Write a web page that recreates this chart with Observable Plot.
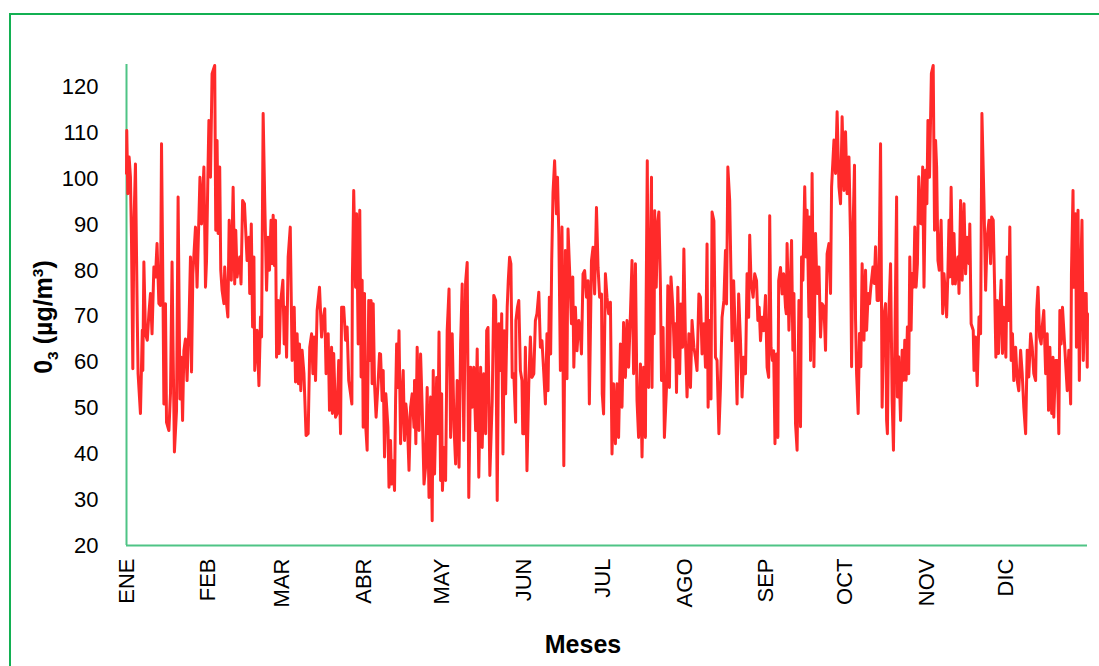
<!DOCTYPE html>
<html><head><meta charset="utf-8">
<script src="https://cdn.jsdelivr.net/npm/d3@7"></script>
<script src="https://cdn.jsdelivr.net/npm/@observablehq/plot@0.6"></script>
<style>
body{margin:0;background:#fff;}
#wrap{position:relative;width:1099px;height:666px;overflow:hidden;font-family:"Liberation Sans",Arial,sans-serif;color:#000;}
#frame{position:absolute;left:9px;top:13px;width:1200px;height:800px;border-left:2px solid #13b052;border-top:2px solid #13b052;}
#ylab{position:absolute;left:45px;top:317px;transform:translate(-50%,-50%) rotate(-90deg);font-weight:bold;font-size:25px;white-space:nowrap;line-height:1;}
#ylab sub,#ylab sup{font-size:0.62em;}
#xlab{position:absolute;left:583px;top:632px;transform:translateX(-50%);font-weight:bold;font-size:25px;line-height:1;}
#chart{position:absolute;left:0;top:0;}
</style></head><body>
<div id="wrap"><div id="frame"></div><div id="chart"></div><div id="ylab">0<sub>3</sub> (µg/m<sup>3</sup>)</div><div id="xlab">Meses</div></div>
<script>
const monthLabels = ["ENE","FEB","MAR","ABR","MAY","JUN","JUL","AGO","SEP","OCT","NOV","DIC"];
const monthStartDays = [0,31,59,90,120,151,181,212,243,273,304,334];
const yTicks = [20,30,40,50,60,70,80,90,100,110,120];

const day = [
0.0,0.1,0.5,1.0,1.5,1.9,2.4,2.8,3.4,4.1,4.4,5.3,6.0,6.2,6.6,7.2,7.9,8.5,9.1,9.7,10.4,11.0,11.6,12.3,12.9,13.3,13.9,14.2,14.8,15.2,16.1,16.7,17.3,17.7,18.2,19.0,19.6,20.3,20.8,21.3,21.8,22.4,23.0,23.7,24.3,24.7,25.2,26.2,26.8,27.9,28.5,29.4,30.0,30.4,30.9,31.3,31.9,32.5,33.5,33.9,34.4,34.8,35.4,35.8,36.3,37.0,37.3,38.0,38.5,39.0,39.8,40.5,41.1,41.5,42.0,43.0,43.5,44.1,44.8,
45.8,46.5,46.8,47.4,47.9,48.4,48.7,49.6,50.3,50.9,51.3,51.9,52.5,53.2,53.8,54.3,54.9,55.3,55.7,56.2,56.6,57.0,57.6,58.0,58.5,59.4,59.9,60.3,60.8,61.4,62.2,62.9,63.7,64.2,64.8,65.3,65.7,66.2,66.7,67.4,68.2,69.0,69.6,70.3,70.8,71.3,71.8,72.4,73.3,74.1,74.6,75.3,75.8,76.6,77.1,77.9,78.2,78.7,79.4,80.0,80.6,81.3,81.7,82.5,83.2,83.8,84.4,85.1,85.6,85.8,86.3,87.0,87.4,88.0,88.6,89.1,89.5,89.9,90.4,90.8,91.4,92.0,92.5,92.9,93.3,93.7,94.2,94.8,95.6,96.1,
96.5,97.1,97.5,98.0,98.5,99.3,99.7,100.3,100.7,101.2,101.8,102.2,102.6,103.1,103.5,104.1,104.7,105.1,105.6,106.1,106.6,107.3,107.9,108.5,109.2,109.4,109.9,110.4,111.1,111.7,112.3,113.0,113.6,114.2,114.9,115.5,116.1,116.5,117.0,117.8,118.3,118.7,119.3,119.7,120.0,120.6,121.2,121.8,122.5,123.1,123.7,124.4,125.0,125.6,126.3,126.9,127.5,128.1,128.8,129.4,130.0,130.7,131.3,131.9,132.6,133.2,133.8,134.5,135.1,135.7,136.4,136.8,137.3,138.0,138.9,139.5,140.2,140.8,141.4,142.1,142.5,143.0,143.5,144.0,144.6,145.0,145.5,146.0,146.5,147.1,147.8,
147.9,148.5,149.0,149.6,150.2,150.5,151.1,151.5,152.1,152.8,153.4,154.0,154.7,155.3,155.9,156.6,157.2,157.8,158.5,159.1,159.7,160.1,160.6,161.1,161.5,162.0,162.6,163.3,163.7,164.2,164.8,165.4,166.1,166.7,167.3,167.7,168.3,169.0,169.5,169.9,170.5,171.1,171.8,172.4,172.8,173.4,174.0,174.7,175.3,175.8,176.6,177.2,177.8,178.5,179.1,179.7,180.4,180.7,181.2,181.9,182.5,183.1,183.8,184.4,185.0,185.7,186.3,186.9,187.6,188.2,188.8,189.5,190.1,190.7,191.4,192.0,192.6,193.3,193.9,194.5,195.2,195.8,196.4,197.1,197.3,197.8,198.3,199.0,
199.4,199.6,200.0,200.4,200.6,201.2,201.7,202.2,202.8,203.2,203.8,204.3,205.1,205.6,206.2,206.8,207.5,208.1,208.5,208.9,209.4,210.1,210.6,211.2,211.7,212.3,212.9,213.6,214.2,214.8,215.5,216.1,216.7,217.4,218.0,218.6,219.3,219.9,220.5,220.9,221.5,222.0,222.4,223.1,223.7,224.3,225.0,225.6,226.2,226.9,227.5,227.9,228.4,229.1,229.6,230.0,230.6,231.3,231.9,232.5,233.2,233.8,234.4,235.1,235.7,236.3,236.7,237.2,238.0,238.6,239.3,239.8,240.3,240.8,241.4,242.0,242.7,243.3,243.9,244.3,244.8,245.3,245.8,246.3,246.9,247.4,247.7,248.4,249.0,249.6,250.3,
250.6,250.9,251.6,252.1,252.6,253.1,253.5,254.1,254.7,255.4,256.0,256.4,256.9,257.6,258.1,258.5,259.2,259.4,259.8,260.4,261.1,261.7,262.3,263.0,263.6,264.2,264.9,265.5,266.1,266.8,267.4,267.8,268.7,269.3,269.9,270.6,271.2,271.8,272.5,273.1,273.7,274.4,275.0,275.4,276.0,276.5,276.9,277.3,277.9,278.4,278.9,279.4,280.1,280.7,281.1,281.7,282.2,282.7,283.5,284.0,284.5,285.1,285.7,286.4,287.0,287.6,288.3,288.7,289.0,289.5,290.2,290.8,291.3,291.8,292.5,292.8,293.3,294.0,294.6,295.2,295.6,296.1,296.6,297.1,297.5,298.0,298.4,299.0,299.4,299.9,300.4,300.9,301.6,
302.0,302.4,302.9,303.5,304.0,304.4,305.0,305.7,306.4,306.9,307.3,307.7,308.2,308.7,309.4,310.0,310.5,311.0,311.5,312.0,312.4,312.7,313.2,313.8,314.3,314.8,315.3,315.8,316.2,316.8,317.4,318.1,318.7,319.3,320.0,320.3,320.8,321.6,321.9,322.5,323.1,323.8,324.4,324.9,325.7,326.3,326.9,327.6,328.2,328.6,329.2,329.7,330.2,330.7,331.2,331.7,332.2,332.7,333.2,334.0,334.5,335.0,335.5,336.0,336.5,337.0,337.7,338.3,338.9,339.6,340.2,340.8,341.5,342.1,342.7,343.4,344.0,344.6,345.3,345.7,346.2,346.8,347.4,347.8,348.4,349.1,349.7,350.2,350.7,351.4,351.9,352.2,352.9,353.5,354.1,354.5,355.0,355.5,356.0,356.7,357.3,357.9,358.6,358.9,359.5,359.8,360.5,360.8,361.4,361.9,362.4,362.9,363.4,364.0,364.5,364.9,365.0
];

const o3 = [
101.2,110.6,96.8,104.8,100.4,86.6,58.6,89.5,103.3,69.1,57.5,48.8,67.0,58.2,81.9,66.2,64.8,70.6,75.0,66.2,80.8,78.6,85.9,72.8,72.4,107.7,72.0,50.9,72.8,46.9,45.1,53.1,81.9,62.6,40.4,49.5,96.1,52.0,61.1,47.3,62.6,65.1,56.0,67.7,83.0,57.9,79.3,89.5,76.4,100.4,90.2,102.6,76.4,82.2,100.4,112.8,100.4,123.0,124.8,88.8,108.4,88.1,102.6,80.1,75.7,72.8,80.8,72.8,69.9,91.0,77.9,98.2,77.1,88.8,78.6,83.0,77.1,95.3,94.6,
82.2,87.3,75.0,90.2,67.7,83.0,58.2,67.0,54.9,69.9,65.5,114.3,95.3,75.7,87.3,80.1,91.0,81.5,92.1,81.1,91.0,61.1,73.5,61.9,72.8,77.9,64.0,72.0,61.1,83.0,89.5,60.4,72.0,55.7,66.2,55.3,64.0,53.8,62.6,57.5,44.0,44.4,63.3,66.2,57.5,65.5,56.0,71.3,76.4,65.5,69.1,71.7,57.5,66.2,49.5,63.3,48.8,61.9,48.0,48.8,60.4,44.4,72.0,72.0,64.8,67.7,56.0,53.1,50.9,78.6,97.5,76.4,92.4,64.0,93.2,56.8,77.9,45.8,75.0,46.6,40.8,73.5,60.4,73.5,55.3,72.8,55.3,48.0,56.0,61.9,
61.8,51.6,58.2,39.3,53.1,45.8,32.7,42.9,33.4,38.5,32.0,51.6,64.0,54.5,66.9,42.2,53.1,58.2,42.9,50.9,48.0,36.4,50.2,53.1,45.8,56.0,42.2,63.3,45.1,61.8,50.2,33.4,37.1,54.5,30.5,52.4,25.4,58.2,35.6,56.7,44.4,66.6,34.2,53.1,32.0,41.4,34.2,66.9,76.0,43.6,66.2,45.8,37.8,56.0,37.1,64.0,77.1,42.9,77.5,81.8,30.5,58.9,50.2,58.9,45.1,62.9,34.9,58.9,41.4,57.5,44.4,66.9,67.6,35.3,51.6,74.6,73.5,29.8,68.4,58.2,70.6,40.0,66.9,53.1,72.0,77.8,82.9,81.5,56.7,57.5,46.9,
69.1,72.0,73.5,58.2,56.0,44.4,44.4,63.3,36.3,55.3,65.5,56.7,57.5,69.1,70.6,75.3,63.3,64.7,57.5,50.9,66.2,53.8,74.2,61.8,82.2,97.1,104.0,92.4,100.4,88.0,58.2,89.5,37.4,84.4,56.4,89.1,80.0,68.4,78.6,58.9,72.0,62.5,69.1,66.2,61.8,79.3,80.0,74.2,77.8,50.9,82.2,85.1,74.9,93.8,80.7,74.2,74.9,53.1,48.7,79.3,74.2,70.6,73.1,40.0,55.3,42.2,55.3,43.6,64.0,50.2,68.7,56.7,69.1,58.9,70.6,82.2,57.5,81.5,51.6,43.6,59.6,39.3,58.9,43.6,68.7,104.0,54.5,85.8,
100.4,54.5,85.8,66.2,93.1,76.4,90.2,92.8,76.4,56.0,67.6,43.6,54.5,76.7,54.5,78.6,72.0,61.1,68.4,53.4,76.4,57.5,72.7,63.3,84.7,64.7,52.4,66.2,54.5,69.1,63.3,61.1,58.2,74.9,74.2,61.8,68.4,58.9,85.8,50.2,69.1,52.0,92.8,90.9,61.1,60.4,44.4,54.5,69.8,73.5,84.4,72.7,102.6,95.3,78.6,64.7,77.8,64.7,50.9,74.9,64.7,52.4,61.1,57.5,79.3,69.8,87.7,77.8,74.2,79.3,77.8,69.1,72.0,64.7,69.8,66.9,74.6,58.9,56.7,92.0,63.3,60.4,62.5,42.2,61.8,43.6,77.8,80.7,74.9,79.3,72.0,
70.6,85.9,67.0,76.4,86.6,62.6,75.0,46.6,40.8,73.5,45.9,83.0,77.9,98.3,83.0,93.2,69.9,91.7,60.4,101.2,59.0,88.1,75.0,80.8,65.5,72.8,72.1,62.6,83.7,85.9,75.0,98.3,108.5,101.2,114.7,98.3,94.6,113.6,97.5,110.3,96.8,104.8,86.6,59.0,90.3,103.0,69.2,57.5,48.8,66.3,59.0,81.5,64.8,80.1,67.0,75.0,72.8,76.4,80.8,77.2,85.2,73.5,73.5,107.7,50.2,69.9,72.8,47.3,44.4,69.9,81.5,51.7,40.8,62.6,96.1,52.4,61.2,47.3,62.6,56.1,64.8,56.1,67.7,57.5,83.0,67.0,79.4,76.4,89.5,76.4,81.5,100.5,90.3,
90.2,102.6,76.4,101.9,94.6,112.8,100.4,123.0,124.8,88.8,108.4,102.6,82.2,80.1,91.0,70.6,79.3,75.0,69.9,80.1,91.0,78.6,98.2,77.1,88.1,77.1,80.8,83.0,75.0,95.3,77.9,94.6,79.3,87.3,81.5,90.2,68.4,67.0,58.2,65.5,54.9,69.9,66.2,114.3,94.6,75.7,87.3,91.0,81.5,91.7,91.0,77.1,61.1,73.5,61.9,71.3,77.9,61.9,72.0,61.1,83.0,69.1,89.5,60.4,66.2,56.0,63.3,56.0,53.8,62.6,57.5,50.2,44.4,62.6,56.8,66.2,63.3,57.5,56.0,71.3,76.4,65.5,64.0,67.7,71.3,57.5,66.2,49.5,63.3,48.8,61.1,48.0,60.4,60.4,44.4,71.3,64.0,72.0,67.0,59.7,53.8,62.6,50.9,79.3,97.5,76.4,92.4,63.3,93.2,56.0,77.9,91.0,60.4,75.0,75.0,58.9,70.6
];

const data = day.map((d, i) => ({day: d, o3: o3[i]}));
const axisColor = "#4fc485";

const chart = Plot.plot({
  width: 1099,
  height: 666,
  marginLeft: 126,
  marginRight: 12,
  marginTop: 64,
  marginBottom: 121,
  style: {background: "transparent", fontFamily: "'Liberation Sans', Arial, sans-serif", fontSize: "22px", color: "#000"},
  x: {domain: [0, 365]},
  y: {domain: [20, 125]},
  marks: [
    Plot.axisY(yTicks, {tickSize: 0, tickPadding: 28, label: null, fontSize: 22}),
    Plot.axisX(monthStartDays, {tickSize: 0, tickPadding: 13, tickRotate: -90, label: null, fontSize: 22,
      tickFormat: d => monthLabels[monthStartDays.indexOf(d)]}),
    Plot.ruleX([0], {stroke: axisColor, strokeWidth: 2}),
    Plot.ruleY([20], {stroke: axisColor, strokeWidth: 2}),
    Plot.line(data, {x: "day", y: "o3", stroke: "#ff2a2a", strokeWidth: 3})
  ]
});
document.getElementById("chart").appendChild(chart);
</script>
</body></html>
